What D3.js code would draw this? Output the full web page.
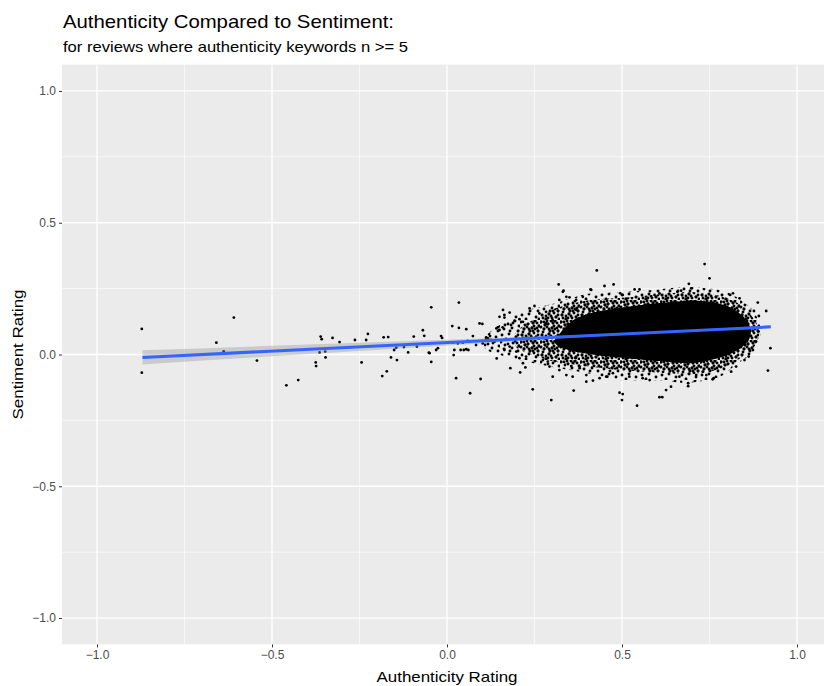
<!DOCTYPE html>
<html>
<head>
<meta charset="utf-8">
<script src="https://cdn.jsdelivr.net/npm/d3@7"></script>
<style>
  body { margin: 0; background: #fff; }
  svg { display: block; font-family: "Liberation Sans", Arial, sans-serif; }
</style>
</head>
<body>
<svg id="chart" width="824" height="686"></svg>
<script>
// ---- data ----
const titleText = 'Authenticity Compared to Sentiment:';
const subtitleText = 'for reviews where authenticity keywords n >= 5';
const xLabel = 'Authenticity Rating';
const yLabel = 'Sentiment Rating';

const xTicks = [-1.0, -0.5, 0.0, 0.5, 1.0];
const yTicks = [-1.0, -0.5, 0.0, 0.5, 1.0];
const xMinor = [-0.75, -0.25, 0.25, 0.75];
const yMinor = [-0.75, -0.25, 0.25, 0.75];

// individual points that stand apart from the overplotted cloud [authenticity, sentiment]
const points = [
  [-0.872, 0.097], [-0.872, -0.069], [-0.609, 0.140], [-0.659, 0.045], [-0.638, 0.012],
  [-0.543, -0.023], [-0.459, -0.117], [-0.425, -0.097], [-0.361, 0.068], [-0.358, 0.058],
  [-0.364, 0.008], [-0.348, 0.011], [-0.347, -0.011], [-0.375, -0.030], [-0.374, -0.044],
  [-0.327, 0.063], [-0.307, 0.047], [-0.263, 0.055], [-0.231, 0.055], [-0.226, 0.078],
  [-0.244, -0.030], [-0.181, 0.065], [-0.168, 0.066], [-0.151, 0.017], [-0.145, 0.026],
  [-0.160, -0.011], [-0.143, -0.021], [-0.185, -0.082], [-0.172, -0.064], [-0.123, 0.028],
  [-0.111, 0.008], [-0.095, 0.068], [-0.086, 0.030], [-0.069, 0.092], [-0.065, 0.071],
  [-0.052, 0.007], [-0.045, 0.179], [0.034, 0.197], [-0.017, 0.070], [-0.014, 0.063],
  [-0.050, 0.005], [-0.045, -0.028], [-0.026, 0.024], [-0.031, 0.017], [0.015, 0.108],
  [0.034, 0.101], [0.055, 0.096], [0.019, -0.002], [0.039, 0.017], [0.048, 0.017],
  [0.061, 0.017], [0.026, -0.090], [0.066, -0.147], [0.096, -0.093], [0.093, 0.118],
  [0.101, 0.116], [0.074, 0.070], [0.083, 0.036], [0.102, 0.042], [0.117, 0.061],
  [0.123, 0.070], [0.145, 0.103], [0.150, 0.093], [0.160, 0.169], [0.164, 0.140],
  [0.179, 0.159], [0.142, -0.015], [0.181, -0.052], [0.209, -0.068], [0.224, -0.049],
  [0.245, -0.132], [0.250, 0.184], [0.298, -0.173], [0.319, 0.266], [0.362, -0.137],
  [0.428, 0.319], [0.450, 0.260], [0.476, 0.266], [0.410, 0.247], [0.493, -0.145],
  [0.502, -0.150], [0.500, -0.173], [0.543, -0.194], [0.607, -0.162], [0.615, -0.162],
  [0.640, -0.122], [0.689, -0.120], [0.689, -0.109], [0.736, 0.343], [0.750, 0.289],
  [0.691, 0.268], [0.888, 0.197], [0.877, 0.165], [0.912, 0.165], [0.924, 0.024],
  [0.917, -0.061], [0.759, -0.094], [0.017, 0.045], [0.031, 0.042], [0.045, 0.045],
  [0.059, 0.052], [0.021, 0.017], [0.055, 0.020],
  [0.333, 0.242], [0.341, 0.219], [0.350, 0.217], [0.536, 0.247], [0.550, 0.247],
  [0.495, 0.232], [0.502, 0.226], [0.607, 0.232], [0.593, 0.226], [0.698, 0.251],
  [0.658, 0.238], [0.669, 0.242], [0.809, 0.226], [0.817, 0.232], [0.836, 0.213],
  [0.891, 0.146], [0.890, 0.087], [0.883, 0.049], [0.874, 0.017], [0.862, -0.008],
  [0.850, -0.021], [0.826, -0.046], [0.812, -0.065], [0.762, -0.090], [0.741, -0.078],
  [0.626, -0.135], [0.417, -0.099], [0.436, -0.090], [0.458, -0.084], [0.367, -0.014],
  [0.355, -0.044], [0.379, -0.052], [0.398, -0.078], [0.521, -0.084], [0.559, -0.090],
  [0.579, -0.097], [0.664, -0.084], [0.712, -0.078], [0.731, -0.065],
  [0.150, 0.143], [0.164, 0.150], [0.193, 0.128], [0.207, 0.134], [0.217, 0.124],
  [0.141, 0.099], [0.159, 0.103], [0.183, 0.112], [0.112, 0.065], [0.126, 0.055],
  [0.136, 0.049], [0.164, 0.017], [0.179, 0.030], [0.198, 0.011], [0.207, -0.014],
  [0.226, -0.008], [0.217, -0.033], [0.236, 0.175], [0.264, 0.156], [0.283, 0.162],
  [0.274, -0.021], [0.288, -0.027], [0.293, -0.046], [0.302, -0.084], [0.321, -0.059],
  [0.341, -0.078], [0.321, 0.207], [0.331, 0.238], [0.283, 0.118], [0.302, 0.131],
  [0.369, 0.207], [0.388, 0.219], [0.412, 0.245], [0.369, 0.169], [0.359, -0.084],
  [0.379, -0.046], [0.398, -0.103], [0.455, -0.084], [0.474, -0.071]
];

// outline of the outer, sparser part of the overplotted cloud
const haloOutline = [
  [0.113, 0.074], [0.207, 0.158], [0.301, 0.192], [0.399, 0.230], [0.493, 0.237],
  [0.587, 0.245], [0.684, 0.256], [0.779, 0.245], [0.827, 0.218], [0.873, 0.169],
  [0.899, 0.093], [0.873, 0.006], [0.827, -0.036], [0.779, -0.085], [0.684, -0.108],
  [0.587, -0.097], [0.493, -0.097], [0.399, -0.070], [0.301, -0.047], [0.207, -0.021],
  [0.113, 0.017]
];
// outline of the inner, denser part
const midOutline = [
  [0.200, 0.090], [0.300, 0.170], [0.400, 0.205], [0.500, 0.215], [0.600, 0.228],
  [0.700, 0.237], [0.780, 0.222], [0.840, 0.188], [0.880, 0.130], [0.893, 0.080],
  [0.878, 0.030], [0.840, -0.012], [0.780, -0.055], [0.700, -0.075], [0.600, -0.068],
  [0.500, -0.060], [0.400, -0.045], [0.300, -0.025], [0.200, 0.025]
];
// outline of the solid black core where points fully overlap
const coreOutline = [
  [0.310, 0.060], [0.360, 0.130], [0.420, 0.160], [0.513, 0.180],
  [0.607, 0.195], [0.701, 0.205], [0.760, 0.198], [0.810, 0.178], [0.845, 0.145],
  [0.868, 0.100], [0.862, 0.055], [0.835, 0.020], [0.790, -0.008],
  [0.740, -0.025], [0.690, -0.034], [0.607, -0.025], [0.513, -0.014], [0.430, -0.003],
  [0.360, 0.012], [0.315, 0.035]
];

// linear fit and its confidence band
const fitX = [-0.870, 0.925];
const fitY = [-0.011, 0.105];
const bandX = [-0.870, -0.500, 0.000, 0.300, 0.600, 0.925];
const bandHalf = [0.027, 0.020, 0.011, 0.006, 0.002, 0.006];

// ---- drawing ----
const svg = d3.select('#chart');
const x = d3.scaleLinear().domain([-1.1, 1.1]).range([62, 832]);
const y = d3.scaleLinear().domain([-1.1, 1.1]).range([644.4, 64.6]);

// speckle textures standing in for thousands of overlapping points
const defs = svg.append('defs');
function speckle(id, dots) {
  const p = defs.append('pattern').attr('id', id)
    .attr('patternUnits', 'userSpaceOnUse').attr('width', 20).attr('height', 20);
  dots.forEach(([px, py]) => p.append('circle').attr('cx', px).attr('cy', py).attr('r', 1.45).attr('fill', '#000'));
}
const sparseDots = [[1,2],[8,4],[15,1],[4,9],[12,8],[18,11],[2,15],[9,14],[16,17],[6,19],[13,3],[19,6],[10,11],[5,5]];
speckle('speckleSparse', sparseDots);
speckle('speckleDense', sparseDots.concat([[3,12],[7,7],[11,1],[14,13],[17,3],[1,7],[6,16],[12,18],[18,15],[9,9],[3,18],[15,9],[7,1],[14,6],[11,16],[19,19],[17,8],[4,2],[8,18],[13,11]]));

// panel
svg.append('rect')
  .attr('x', x(-1.1)).attr('y', y(1.1))
  .attr('width', x(1.1) - x(-1.1)).attr('height', y(-1.1) - y(1.1))
  .attr('fill', '#EBEBEB');

const grid = svg.append('g');
grid.selectAll('.vmin').data(xMinor).enter().append('line')
  .attr('x1', d => x(d)).attr('x2', d => x(d))
  .attr('y1', y(1.1)).attr('y2', y(-1.1))
  .attr('stroke', '#fff').attr('stroke-width', 0.6);
grid.selectAll('.hmin').data(yMinor).enter().append('line')
  .attr('y1', d => y(d)).attr('y2', d => y(d))
  .attr('x1', x(-1.1)).attr('x2', x(1.1))
  .attr('stroke', '#fff').attr('stroke-width', 0.6);
grid.selectAll('.vmaj').data(xTicks).enter().append('line')
  .attr('x1', d => x(d)).attr('x2', d => x(d))
  .attr('y1', y(1.1)).attr('y2', y(-1.1))
  .attr('stroke', '#fff').attr('stroke-width', 1.3);
grid.selectAll('.hmaj').data(yTicks).enter().append('line')
  .attr('y1', d => y(d)).attr('y2', d => y(d))
  .attr('x1', x(-1.1)).attr('x2', x(1.1))
  .attr('stroke', '#fff').attr('stroke-width', 1.3);

// dense cloud
const outline = d3.line().x(d => x(d[0])).y(d => y(d[1])).curve(d3.curveCardinalClosed.tension(0.3));
svg.append('path').attr('d', outline(haloOutline)).attr('fill', 'url(#speckleSparse)');
svg.append('path').attr('d', outline(midOutline)).attr('fill', 'url(#speckleDense)');
svg.append('path').attr('d', outline(coreOutline)).attr('fill', '#000');

// points
svg.append('g').selectAll('circle').data(points).enter().append('circle')
  .attr('cx', d => x(d[0])).attr('cy', d => y(d[1]))
  .attr('r', 1.4).attr('fill', '#000');

// confidence band
const slope = (fitY[1] - fitY[0]) / (fitX[1] - fitX[0]);
const fitAt = v => fitY[0] + slope * (v - fitX[0]);
const band = bandX.map((v, i) => ({ v, lo: fitAt(v) - bandHalf[i], hi: fitAt(v) + bandHalf[i] }));
svg.append('path')
  .attr('d', d3.area().x(d => x(d.v)).y0(d => y(d.lo)).y1(d => y(d.hi)).curve(d3.curveMonotoneX)(band))
  .attr('fill', '#999999').attr('fill-opacity', 0.4);

// fit line
svg.append('line')
  .attr('x1', x(fitX[0])).attr('y1', y(fitY[0]))
  .attr('x2', x(fitX[1])).attr('y2', y(fitY[1]))
  .attr('stroke', '#3366FF').attr('stroke-width', 3);

// axes
const fmt = d3.format('.1f');
const xAxis = svg.append('g').attr('transform', `translate(0,${y(-1.1)})`)
  .call(d3.axisBottom(x).tickValues(xTicks).tickFormat(fmt).tickSize(3).tickPadding(3));
const yAxis = svg.append('g').attr('transform', `translate(${x(-1.1)},0)`)
  .call(d3.axisLeft(y).tickValues(yTicks).tickFormat(fmt).tickSize(3).tickPadding(3));
[xAxis, yAxis].forEach(a => {
  a.select('.domain').remove();
  a.selectAll('line').attr('stroke', '#333').attr('stroke-width', 1);
  a.selectAll('text').attr('fill', '#4D4D4D').style('font-size', '12px')
    .style('font-family', '"Liberation Sans", Arial, sans-serif');
});

svg.append('text').attr('x', x(0)).attr('y', 682)
  .attr('text-anchor', 'middle').style('font-size', '15px').attr('fill', '#000')
  .attr('textLength', 141).attr('lengthAdjust', 'spacingAndGlyphs')
  .text(xLabel);
svg.append('text').attr('transform', `translate(23,${y(0)}) rotate(-90)`)
  .attr('text-anchor', 'middle').style('font-size', '15px').attr('fill', '#000')
  .attr('textLength', 130).attr('lengthAdjust', 'spacingAndGlyphs')
  .text(yLabel);

svg.append('text').attr('x', 63).attr('y', 28)
  .style('font-size', '18.5px').attr('fill', '#000')
  .attr('textLength', 331).attr('lengthAdjust', 'spacingAndGlyphs')
  .text(titleText);
svg.append('text').attr('x', 63).attr('y', 52)
  .style('font-size', '14.5px').attr('fill', '#000')
  .attr('textLength', 345).attr('lengthAdjust', 'spacingAndGlyphs')
  .text(subtitleText);
</script>
</body>
</html>
